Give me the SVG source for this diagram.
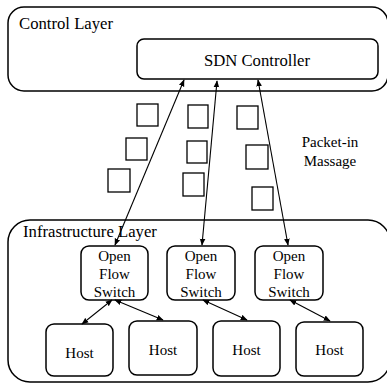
<svg xmlns="http://www.w3.org/2000/svg" width="387" height="392" viewBox="0 0 387 392">
<defs>
<marker id="ah" viewBox="0 0 10 10" refX="9" refY="5" markerWidth="7" markerHeight="7" orient="auto-start-reverse" markerUnits="userSpaceOnUse">
<path d="M0,1 L10,5 L0,9 z" fill="#000"/>
</marker>
<style>
.box{fill:#fff;stroke:#000;stroke-width:1.5}
.pk{fill:#fff;stroke:#000;stroke-width:1.3}
.c{text-anchor:middle}
text{font-family:"Liberation Serif","DejaVu Serif",serif;font-size:15px;fill:#000}
.big{font-size:16.7px}
.ln{stroke:#000;stroke-width:1.1;fill:none;marker-start:url(#ah);marker-end:url(#ah)}
</style>
</defs>
<rect width="387" height="392" fill="#fff"/>
<g id="control-layer">
<rect class="box" x="8" y="7" width="380" height="84" rx="16"/>
<text class="big" x="19" y="29">Control Layer</text>
</g>
<g id="sdn-controller">
<rect class="box" x="137" y="39" width="241" height="40" rx="7"/>
<text class="c big" x="257" y="66">SDN Controller</text>
</g>
<g id="infrastructure-layer">
<rect class="box" x="8" y="220" width="382" height="162" rx="22"/>
<text class="big" x="23" y="237">Infrastructure Layer</text>
</g>
<g id="packets">
<rect class="pk" x="137" y="104" width="21" height="22"/>
<rect class="pk" x="126" y="138" width="21" height="22"/>
<rect class="pk" x="108" y="169" width="22" height="23"/>
<rect class="pk" x="188" y="105" width="20" height="23"/>
<rect class="pk" x="187" y="141" width="20" height="22"/>
<rect class="pk" x="183" y="173" width="21" height="23"/>
<rect class="pk" x="237" y="106" width="21" height="23"/>
<rect class="pk" x="246" y="145" width="22" height="24"/>
<rect class="pk" x="252" y="187" width="21" height="23"/>
</g>
<g id="packet-in-label">
<text class="c" x="330" y="147">Packet-in</text>
<text class="c" x="330" y="166">Massage</text>
</g>
<g id="switch1">
<rect class="box" x="81" y="246" width="67" height="54" rx="8"/>
<text class="c" x="114.5" y="261">Open</text>
<text class="c" x="114.5" y="279">Flow</text>
<text class="c" x="114.5" y="297">Switch</text>
</g>
<g id="switch2">
<rect class="box" x="167" y="246" width="68" height="54" rx="8"/>
<text class="c" x="201" y="261">Open</text>
<text class="c" x="201" y="279">Flow</text>
<text class="c" x="201" y="297">Switch</text>
</g>
<g id="switch3">
<rect class="box" x="255" y="246" width="68" height="54" rx="8"/>
<text class="c" x="289" y="261">Open</text>
<text class="c" x="289" y="279">Flow</text>
<text class="c" x="289" y="297">Switch</text>
</g>
<g id="host1">
<rect class="box" x="46" y="324" width="67" height="52" rx="8"/>
<text class="c" x="79.5" y="358">Host</text>
</g>
<g id="host2">
<rect class="box" x="129" y="321" width="68" height="54" rx="8"/>
<text class="c" x="163" y="355">Host</text>
</g>
<g id="host3">
<rect class="box" x="213" y="321" width="67" height="55" rx="8"/>
<text class="c" x="246.5" y="355">Host</text>
</g>
<g id="host4">
<rect class="box" x="296" y="322" width="67" height="54" rx="8"/>
<text class="c" x="329.5" y="355">Host</text>
</g>
<g id="connectors">
<line class="ln" x1="184" y1="80" x2="115" y2="245"/>
<line class="ln" x1="217" y1="81" x2="202" y2="245"/>
<line class="ln" x1="258" y1="80" x2="288" y2="245"/>
<line class="ln" x1="112" y1="300" x2="82" y2="324"/>
<line class="ln" x1="115" y1="300" x2="163" y2="320"/>
<line class="ln" x1="203" y1="300" x2="247" y2="320"/>
<line class="ln" x1="290" y1="300" x2="330" y2="321"/>
</g>
</svg>
